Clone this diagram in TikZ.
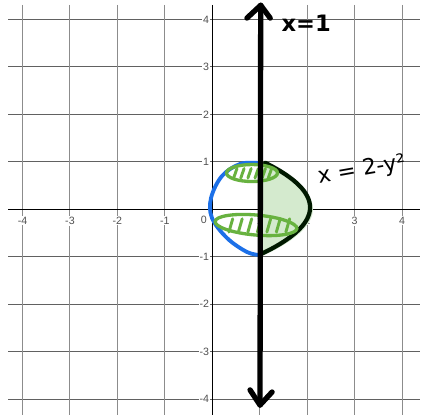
\documentclass[tikz,border=0pt]{standalone}
\usepackage{fontspec}
\setmainfont{Liberation Sans}
\newfontfamily\handfont{DejaVu Sans}
\definecolor{hblue}{RGB}{28,112,232}
\definecolor{hgreen}{RGB}{104,178,64}
\definecolor{hfill}{RGB}{212,234,206}
\definecolor{tickgray}{RGB}{80,80,80}
\begin{document}
\begin{tikzpicture}[x=1.2555cm,y=1.2555cm,
  hgrid/.style={black!62,line width=0.75pt},
  vgrid/.style={black!45,line width=0.75pt},
  axisline/.style={black,line width=1pt},
  xlab/.style={font=\fontsize{8}{9}\selectfont,text=tickgray,fill=white,inner sep=0.8pt},
  ylab/.style={font=\fontsize{8}{9}\selectfont,text=tickgray,fill=white,inner sep=0.8pt,anchor=east},
  bold line/.style={black,line width=4pt,line cap=round,line join=round},
  curveblack/.style={black!90!green,line width=3.2pt,line cap=round},
  curveblue/.style={hblue,line width=2.9pt,line cap=round},
  hatch/.style={hgreen,line width=2.2pt,line cap=round},
  ellip/.style={hgreen,line width=2.5pt},
  hand/.style={font=\handfont\bfseries\fontsize{17}{18}\selectfont},
  handthin/.style={font=\handfont\fontsize{16.5}{18}\selectfont}]
\useasboundingbox (-4.474,-4.335) rectangle (4.419,4.411);
% grid
\foreach \v in {-4,-3,-2,-1,1,2,3,4}
  \draw[hgrid] (-4.30,\v) -- (4.38,\v);
\foreach \u in {-4,-3,-2,-1,1,2,3,4}
  \draw[vgrid] (\u,4.31) -- (\u,-4.335);
% axes
\draw[axisline] (-4.30,0) -- (4.38,0);
\draw[axisline] (0,4.31) -- (0,-4.335);
% tick labels
\foreach \u in {-4,-3,-2,-1,1,2,3,4}
  \node[xlab] (xl\u) at (\u,-0.24) {\u};
\node[xlab] (xl0) at (-0.18,-0.22) {0};
\foreach \v in {-4,-3,-2,-1,1,2,3,4}
  \node[ylab] (yl\v) at (-0.04,\v) {\v};
% shaded region
\fill[hfill] (0.98,0.99) -- plot[domain=0.99:-1.02,samples=40,smooth] ({2.12-1.1*\x*\x},\x) -- cycle;
% x = 2 - y^2 curve
\draw[curveblack] plot[domain=0.98:-0.94,samples=40,smooth] ({2.06-1.07*(\x-0.04)*(\x-0.04)},\x);
% blue reflected curve
\draw[curveblue] plot[smooth,tension=0.6] coordinates {(0.963,0.976) (0.584,0.955) (0.204,0.702) (-0.027,0.238) (-0.006,-0.183) (0.310,-0.605) (0.731,-0.900) (1.005,-0.963)};
% green hatched ellipses
\draw[ellip] (0.837,0.765) ellipse [x radius=0.537,y radius=0.179];
\draw[ellip,rotate around={-5:(0.921,-0.331)}] (0.921,-0.331) ellipse [x radius=0.864,y radius=0.211];
\foreach \a in {0.45,0.60,0.75,0.90,1.05,1.18}
  \draw[hatch] (\a,0.66) -- (\a+0.07,0.86);
\foreach \a in {0.35,0.55,0.75,0.95,1.15,1.35,1.55}
  \draw[hatch] (\a,-0.48) -- (\a+0.08,-0.20);
% bold line x = 1 with hand arrows
\coordinate (top) at (1.02,4.30);
\coordinate (bot) at (1.005,-4.125);
\draw[bold line] (top) -- (bot);
\draw[bold line] (0.73,4.03) -- (top) -- (1.22,4.03);
\draw[bold line] (0.795,-3.805) -- (bot) -- (1.26,-3.85);
% labels
\node[hand] (lx1) at (1.98,3.93) {x=1};
\node[handthin,rotate=10,inner sep=0pt] (lx2) at (3.15,0.82) {x = 2-y²};
\end{tikzpicture}
\end{document}
